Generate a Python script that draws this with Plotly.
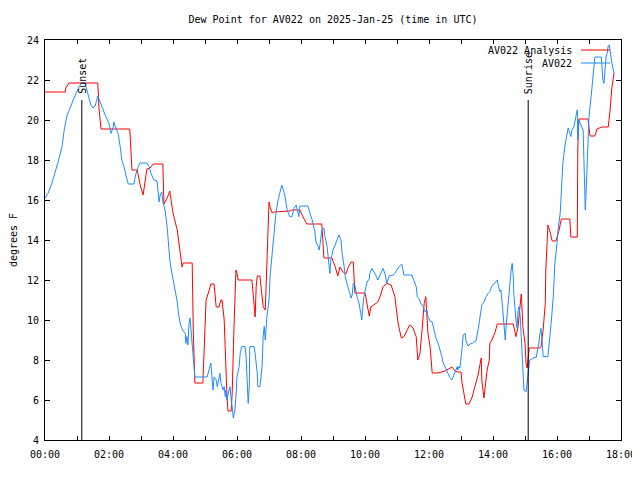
import pandas as pd
import plotly.graph_objects as go

# ---- data (minutes after 00:00 UTC, dew point in deg F) ----
analysis_min = [0, 38, 39, 45, 99, 101, 105, 159, 163, 173, 178, 184, 191, 197, 203, 221, 223, 229, 234, 240,
                248, 253, 257, 259, 276, 278, 281, 296, 300, 302, 308, 311, 317, 321, 326, 330, 332, 336, 341, 343,
                349, 351, 354, 358, 360, 362, 388, 392, 394, 396, 398, 403, 407, 409, 413, 414, 416, 418, 420, 422,
                426, 429, 459, 463, 478, 484, 491, 519, 523, 538, 544, 549, 553, 559, 564, 568, 574, 578, 579, 581,
                600, 604, 608, 611, 619, 624, 628, 634, 641, 649, 656, 662, 668, 673, 679, 684, 690, 696, 699, 703,
                707, 711, 714, 718, 722, 726, 737, 750, 763, 769, 773, 780, 782, 786, 789, 795, 801, 806, 812, 816,
                818, 819, 823, 829, 833, 834, 838, 844, 848, 878, 881, 883, 887, 893, 894, 896, 900, 902, 904, 906,
                908, 928, 930, 934, 938, 939, 943, 947, 951, 958, 964, 968, 984, 986, 998, 999, 1001, 1018, 1022, 1031,
                1035, 1044, 1056, 1059, 1063, 1067]
analysis_val = [21.4, 21.4, 21.6, 21.85, 21.85, 20.65, 19.55, 19.55, 17.5, 17.5, 16.8, 16.25, 17.55, 17.6, 17.8, 17.8, 15.8, 16.1, 16.45, 15.35,
                14.5, 13.35, 12.65, 12.85, 12.85, 9.5, 6.85, 6.85, 10.15, 11.0, 11.5, 11.8, 11.8, 10.65, 10.65, 11.0, 11.0, 10.0, 6.35, 5.45,
                5.45, 6.35, 9.35, 12.5, 12.35, 12.0, 12.0, 10.5, 10.15, 11.67, 12.2, 12.2, 11.35, 10.67, 10.5, 11.35, 13.25, 15.0, 15.9, 15.65,
                15.35, 15.4, 15.45, 15.5, 15.5, 15.15, 14.8, 14.8, 13.1, 13.1, 12.67, 12.2, 12.65, 12.4, 12.3, 12.6, 12.9, 12.9, 12.0, 11.35,
                11.35, 10.67, 10.2, 10.65, 10.83, 10.9, 11.15, 11.67, 11.83, 11.75, 11.17, 9.85, 9.1, 9.17, 9.5, 9.75, 9.6, 9.17, 8.0, 8.3,
                9.5, 10.83, 11.17, 9.35, 8.67, 7.35, 7.35, 7.45, 7.65, 7.45, 7.4, 7.4, 6.85, 6.35, 5.8, 5.8, 6.15, 6.67, 7.25, 7.83,
                8.1, 7.0, 6.1, 7.5, 8.0, 8.83, 9.0, 9.4, 9.8, 9.8, 9.4, 9.17, 9.67, 11.3, 10.8, 9.67, 8.83, 7.83, 7.6, 8.0,
                8.6, 8.6, 8.67, 9.5, 10.83, 12.5, 14.75, 14.4, 13.95, 13.95, 14.5, 15.05, 15.05, 14.15, 14.15, 18.6, 20.05, 20.05, 19.2, 19.2,
                19.55, 19.65, 19.65, 20.35, 21.65, 22.35]

station_min = [0, 6, 13, 19, 24, 32, 36, 41, 47, 52, 58, 64, 69, 75, 79, 83, 86, 90, 94, 99,
               103, 109, 114, 120, 124, 128, 129, 133, 137, 141, 144, 148, 152, 156, 167, 169, 173, 178, 191, 195,
               199, 204, 210, 212, 214, 216, 219, 221, 225, 229, 231, 234, 238, 242, 248, 251, 255, 259, 263, 264,
               266, 268, 270, 272, 274, 276, 278, 279, 281, 304, 308, 311, 313, 315, 317, 321, 323, 326, 328, 330,
               334, 336, 338, 339, 341, 345, 347, 349, 351, 353, 356, 358, 360, 364, 366, 369, 375, 377, 379, 381,
               383, 384, 392, 394, 398, 399, 403, 407, 409, 411, 413, 414, 416, 420, 422, 426, 429, 433, 437, 441,
               444, 448, 450, 454, 459, 463, 467, 471, 474, 476, 478, 493, 497, 501, 506, 508, 512, 514, 516, 519,
               523, 525, 529, 531, 533, 534, 536, 540, 544, 548, 551, 555, 557, 561, 563, 566, 568, 572, 574, 576,
               578, 581, 583, 585, 589, 591, 593, 594, 596, 598, 602, 604, 608, 609, 613, 617, 621, 624, 628, 632,
               634, 638, 641, 645, 653, 656, 660, 664, 669, 671, 673, 688, 690, 692, 696, 698, 701, 705, 709, 713,
               716, 718, 722, 726, 728, 731, 733, 737, 741, 744, 746, 750, 754, 756, 759, 763, 767, 771, 773, 774,
               776, 778, 780, 782, 784, 788, 789, 793, 797, 801, 804, 808, 812, 816, 819, 823, 827, 831, 834, 838,
               842, 846, 848, 849, 851, 853, 855, 857, 859, 861, 863, 864, 866, 868, 870, 872, 874, 876, 878, 879,
               881, 883, 885, 887, 889, 891, 893, 894, 896, 898, 902, 904, 906, 908, 909, 913, 917, 921, 924, 926,
               928, 930, 932, 934, 943, 945, 949, 953, 956, 960, 962, 966, 969, 971, 975, 979, 981, 984, 986, 988,
               992, 994, 998, 999, 1001, 1009, 1013, 1014, 1016, 1018, 1020, 1024, 1026, 1028, 1029, 1031, 1043, 1044, 1046, 1048,
               1050, 1052, 1054, 1056, 1058, 1061, 1063, 1067]
station_val = [16.1, 16.35, 16.85, 17.35, 17.85, 18.67, 19.5, 20.2, 20.6, 21.0, 21.33, 21.67, 21.85, 21.85, 21.4, 21.0, 20.75, 20.6, 20.7, 21.2,
               20.9, 20.5, 20.17, 19.83, 19.33, 19.67, 19.9, 19.6, 19.33, 18.67, 18.0, 17.67, 17.17, 16.8, 16.8, 17.15, 17.55, 17.85, 17.85, 17.67,
               17.33, 17.0, 16.95, 16.17, 15.9, 16.25, 16.4, 15.9, 15.5, 14.67, 13.85, 13.0, 12.33, 11.67, 10.9, 10.17, 9.67, 9.45, 9.33, 8.83,
               9.17, 8.75, 9.83, 10.1, 9.33, 9.0, 8.0, 7.5, 7.15, 7.15, 7.6, 7.85, 7.15, 6.5, 7.15, 7.0, 6.67, 7.15, 7.33, 6.83,
               6.5, 6.67, 6.17, 6.5, 6.0, 6.5, 6.67, 6.0, 5.67, 5.1, 5.5, 6.17, 7.15, 7.67, 8.33, 8.67, 8.67, 8.17, 6.67, 5.83,
               6.67, 8.67, 8.67, 8.33, 7.33, 6.67, 6.67, 7.67, 9.17, 9.67, 9.0, 9.33, 10.17, 11.0, 12.17, 13.33, 14.33, 15.33, 16.0, 16.5,
               16.75, 16.4, 16.17, 15.5, 15.17, 15.17, 15.58, 15.75, 15.33, 15.17, 15.7, 15.7, 15.33, 15.0, 14.4, 13.9, 13.67, 13.5, 13.83, 14.5,
               14.6, 14.17, 13.67, 13.0, 12.67, 12.33, 13.0, 13.5, 13.75, 14.0, 14.25, 14.0, 13.33, 12.67, 12.17, 11.83, 11.67, 11.33, 11.1, 11.25,
               11.83, 11.75, 11.4, 11.17, 10.83, 10.5, 10.17, 10.0, 10.67, 11.17, 11.67, 11.9, 12.05, 12.33, 12.58, 12.42, 12.2, 12.0, 12.2, 12.42,
               12.58, 12.25, 11.83, 12.2, 12.25, 12.33, 12.5, 12.67, 12.8, 12.5, 12.25, 12.25, 12.08, 11.9, 11.67, 11.17, 11.08, 10.83, 10.67, 10.4,
               10.5, 10.17, 9.95, 9.9, 9.67, 9.4, 9.1, 8.83, 8.5, 8.2, 7.9, 7.67, 7.45, 7.25, 7.13, 7.0, 7.25, 7.55, 7.67, 7.5,
               7.67, 7.6, 8.0, 8.58, 9.25, 9.33, 9.0, 8.7, 8.8, 8.83, 8.9, 8.95, 9.5, 10.17, 10.75, 10.9, 11.17, 11.33, 11.42, 11.7,
               11.83, 11.92, 12.0, 11.83, 11.67, 11.42, 11.5, 10.83, 10.17, 9.5, 9.0, 9.5, 10.17, 10.5, 11.33, 12.17, 12.5, 12.83, 12.17, 11.33,
               10.5, 10.0, 9.6, 10.5, 10.67, 10.17, 9.17, 8.5, 7.5, 6.5, 6.42, 6.85, 7.17, 7.83, 8.0, 8.05, 8.13, 8.13, 8.5, 8.83,
               9.33, 9.58, 9.0, 8.17, 8.17, 8.67, 9.83, 11.17, 12.83, 13.83, 14.5, 15.33, 16.83, 17.83, 18.75, 19.25, 19.6, 19.33, 19.17, 19.5,
               19.67, 20.0, 20.5, 19.0, 20.0, 19.5, 15.5, 16.0, 17.5, 19.0, 20.17, 21.17, 21.83, 22.5, 22.9, 23.15, 23.15, 22.5, 22.0, 21.83,
               22.67, 23.15, 23.33, 23.7, 23.75, 23.15, 22.83, 22.33]

day = "2025-01-25"
sun_events = ["Sunset", "Sunrise"]
sun_times = ["01:09", "15:06"]
series_names = ["AV022 Analysis", "AV022"]
series_colors = ["#ff0000", "#1e8cff"]

base = pd.Timestamp(day)
t_analysis = [base + pd.Timedelta(minutes=m) for m in analysis_min]
t_station = [base + pd.Timedelta(minutes=m) for m in station_min]

FONT = "DejaVu Sans Mono"
# the page body adds an 8px offset, so the figure is sized to fit the 640x480 window
W, H = 632, 472

fig = go.Figure()
fig.add_trace(go.Scatter(x=t_analysis, y=analysis_val, mode="lines", name=series_names[0],
                         line=dict(color=series_colors[0], width=1), showlegend=False))
fig.add_trace(go.Scatter(x=t_station, y=station_val, mode="lines", name=series_names[1],
                         line=dict(color=series_colors[1], width=1), showlegend=False))

for name, tm in zip(sun_events, sun_times):
    ts = pd.Timestamp(f"{day} {tm}")
    fig.add_shape(type="line", x0=ts, x1=ts, y0=4, y1=21, xref="x", yref="y",
                  line=dict(color="black", width=1))
    fig.add_annotation(x=ts, y=21.2, xref="x", yref="y", text=name, textangle=-90,
                       showarrow=False, xanchor="center", yanchor="bottom",
                       font=dict(family=FONT, size=10, color="black"))

# gnuplot-style key (text left of the line sample)
key_y = [0.975, 0.9425]
for name, col, ky in zip(series_names, series_colors, key_y):
    fig.add_annotation(x=0.9184, y=ky, xref="paper", yref="paper", text=name, showarrow=False,
                       xanchor="right", yanchor="middle", font=dict(family=FONT, size=10, color="black"))
    fig.add_shape(type="line", x0=0.9306, x1=0.9809, y0=ky, y1=ky, xref="paper", yref="paper",
                  line=dict(color=col, width=1))

fig.update_layout(
    width=W, height=H,
    margin=dict(l=37, r=19, t=32, b=40, autoexpand=False),
    paper_bgcolor="white", plot_bgcolor="white",
    font=dict(family=FONT, size=10, color="black"),
    title=dict(text="Dew Point for AV022 on 2025-Jan-25 (time in UTC)", x=0.5, xref="paper",
               y=1 - 11 / H, yref="container", yanchor="middle", automargin=False,
               font=dict(family=FONT, size=10, color="black")),
)
fig.update_xaxes(
    type="date", automargin=False,
    range=[pd.Timestamp(f"{day} 00:00"), pd.Timestamp(f"{day} 18:00")],
    dtick=2 * 3600 * 1000, tick0=pd.Timestamp(f"{day} 00:00"), tickformat="%H:%M",
    ticks="inside", ticklen=4, tickcolor="black", ticklabelstandoff=5,
    minor=dict(dtick=3600 * 1000, ticks="inside", ticklen=4, tickcolor="black"),
    showline=True, linecolor="black", linewidth=1, mirror="ticks",
    showgrid=False, zeroline=False,
    tickfont=dict(family=FONT, size=10),
)
fig.update_yaxes(
    range=[4, 24], dtick=2, tick0=4, automargin=False,
    ticks="inside", ticklen=5, tickcolor="black", ticklabelstandoff=3,
    showline=True, linecolor="black", linewidth=1, mirror="ticks",
    showgrid=False, zeroline=False,
    title=dict(text="degrees F", standoff=13, font=dict(family=FONT, size=10)),
    tickfont=dict(family=FONT, size=10),
)

fig.write_html("out.html")
